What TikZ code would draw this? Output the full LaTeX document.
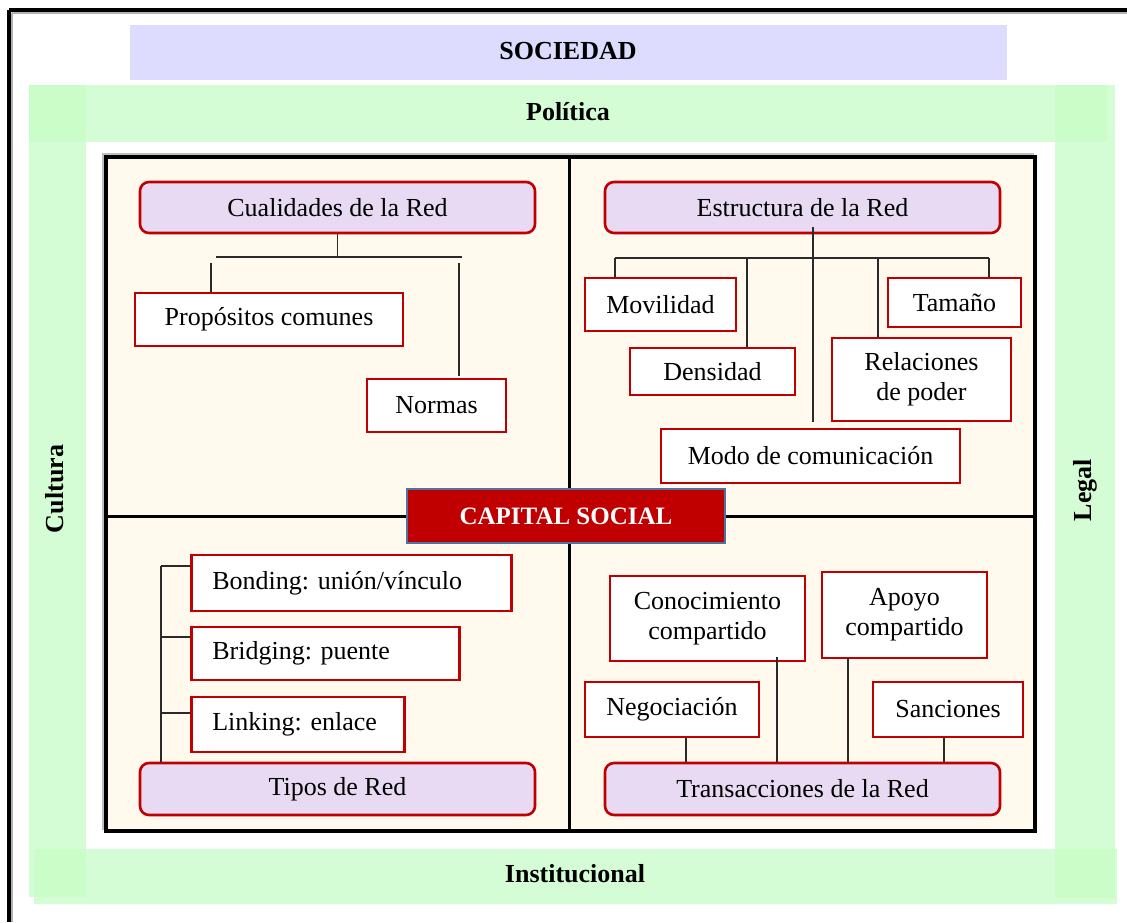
\documentclass[tikz,border=0pt]{standalone}
\usepackage{fontspec}
\setmainfont{Liberation Serif}
\frenchspacing
\definecolor{bandlav}{HTML}{DDDCFE}
\definecolor{bandgreen}{HTML}{D5FDD5}
\definecolor{bandcorner}{HTML}{CBFDC8}
\definecolor{cream}{HTML}{FFF9EE}
\definecolor{boxred}{HTML}{C00000}
\definecolor{boxlilac}{HTML}{E8DAF2}
\definecolor{capborder}{HTML}{4C74A0}
\definecolor{linkgray}{HTML}{2A2A2A}
\begin{document}
\begin{tikzpicture}[x=1pt,y=-1pt,
  bodyfont/.style={font=\fontsize{26}{30}\selectfont},
  bandlabel/.style={font=\fontsize{26}{30}\selectfont\bfseries, inner sep=0pt},
  sizebox/.style 2 args={minimum width=#1pt, minimum height=#2pt},
  whitebox/.style={bodyfont, draw=boxred, line width=2.6pt, fill=white,
    inner sep=0pt, align=center},
  headbox/.style={bodyfont, draw=boxred, line width=2.6pt, fill=boxlilac,
    rounded corners=9pt, inner sep=0pt, align=center},
  leftbox/.style={bodyfont, draw=boxred, line width=2.6pt, fill=white,
    inner ysep=0pt, inner xsep=21pt, anchor=west, align=left},
  link/.style={draw=linkgray, line width=1.3pt},
  gridline/.style={draw=black, line width=3pt},
]
\useasboundingbox (0,0) rectangle (1127,922);

% outer frame (top and left edges)
\draw[gray!60, line width=1.5pt] (12,13) -- (1127,13);
\draw[gray!60, line width=1.5pt] (12,13) -- (12,922);
\draw[black, line width=3.5pt] (9,10) -- (1127,10);
\draw[black, line width=3.5pt] (9,10) -- (9,922);

% society band
\fill[bandlav] (130,25) rectangle (1007,80);
\node[bandlabel] (soc) at (568,51) {SOCIEDAD};

% surrounding context bands
\fill[bandgreen] (29,85) rectangle (1115,142);
\fill[bandgreen] (29,142) rectangle (86,897);
\fill[bandgreen] (1055,142) rectangle (1115,898);
\fill[bandgreen] (34,849) rectangle (1117,904);
\fill[bandcorner] (29,85) rectangle (86,142);
\fill[bandcorner] (1055,85) rectangle (1107,142);
\fill[bandcorner] (34,849) rectangle (86,897);
\fill[bandcorner] (1055,849) rectangle (1115,898);
\node[bandlabel] (pol) at (568,112) {Política};
\node[bandlabel] (inst) at (575,874) {Institucional};
\node[bandlabel, rotate=90] (cult) at (55,489) {Cultura};
\node[bandlabel, rotate=90] (legal) at (1085,490) {Legal};

% central frame with four quadrants
\draw[gray!50, line width=1.5pt] (103,154) rectangle (1033,829);
\draw[black, line width=4pt, fill=cream] (106,157) rectangle (1035,831);
\draw[gridline] (569,157) -- (569,831);
\draw[gridline] (106,516) -- (1035,516);

% quadrant headings
\node[headbox, sizebox={395}{51}] (cual) at (337.5,207.5) {Cualidades de la Red};
\node[headbox, sizebox={395}{51}] (estr) at (802.5,207.5) {Estructura de la Red};
\node[headbox, sizebox={395}{52}] (tipos) at (337.5,789) {Tipos de Red};
\node[headbox, sizebox={395}{52}] (trans) at (802.5,789) {Transacciones de la Red};

% qualities of the network
\node[whitebox, sizebox={268}{53}] (prop) at (269,319.5) {Propósitos comunes};
\node[whitebox, sizebox={139}{53}] (norm) at (436.5,405.5) {Normas};

% structure of the network
\node[whitebox, sizebox={151}{53}] (movi) at (660.5,304.5) {Movilidad};
\node[whitebox, sizebox={165}{47}] (dens) at (712.5,371.5) {Densidad};
\node[whitebox, sizebox={133}{49}] (tama) at (954.5,302.5) {Tamaño};
\node[whitebox, sizebox={179}{83}] (rela) at (921.5,379.5) {Relaciones\\de poder};
\node[whitebox, sizebox={299}{54}] (modo) at (810.5,456) {Modo de comunicación};

% types of network
\node[leftbox, text width=278pt, minimum height=56pt] (bond) at (190,583) {Bonding: unión/vínculo};
\node[leftbox, text width=226pt, minimum height=53pt] (brid) at (190,653.5) {Bridging: puente};
\node[leftbox, text width=171pt, minimum height=55pt] (link) at (190,724.5) {Linking: enlace};

% network transactions
\node[whitebox, sizebox={195}{85}] (cono) at (707.5,618.5) {Conocimiento\\compartido};
\node[whitebox, sizebox={165}{86}] (apoy) at (904.5,615) {Apoyo\\compartido};
\node[whitebox, sizebox={174}{55}] (nego) at (672,709.5) {Negociación};
\node[whitebox, sizebox={150}{55}] (sanc) at (948,709.5) {Sanciones};

% central concept
\node[draw=capborder, line width=2pt, fill=boxred, text=white,
  font=\fontsize{25}{30}\selectfont\bfseries, sizebox={318}{54}, inner sep=0pt]
  (cap) at (566,516) {CAPITAL SOCIAL};

% connectors: qualities
\coordinate (cqL) at (216,257);
\coordinate (cqR) at (462,257);
\coordinate (cqDL) at (211,263);
\coordinate (cqDR) at (459,263);
\draw[link] (cual.south) -- (cual.south |- cqL);
\draw[link] (cqL) -- (cqR);
\draw[link] (cqDL) -- (cqDL |- prop.north);
\draw[link] (cqDR) -- ([yshift=2pt]cqDR |- norm.north);

% connectors: structure
\coordinate (esTop) at (813,227);
\coordinate (esL) at (615,258);
\coordinate (esR) at (989,258);
\coordinate (esDens) at (747,258);
\coordinate (esRela) at (878,258);
\draw[link] (esTop) -- ([yshift=6pt]esTop |- modo.north);
\draw[link] (esL) -- (esR);
\draw[link] (esL) -- (esL |- movi.north);
\draw[link] (esDens) -- (esDens |- dens.north);
\draw[link] (esRela) -- (esRela |- rela.north);
\draw[link] (esR) -- (esR |- tama.north);

% connectors: types
\coordinate (tpTop) at (161,566);
\draw[link] (tpTop) -- (tpTop |- tipos.north);
\draw[link] (tpTop) -- (bond.west |- tpTop);
\draw[link] (tpTop |- 0,637) -- (brid.west |- 0,637);
\draw[link] (tpTop |- 0,713) -- (link.west |- 0,713);

% connectors: transactions
\coordinate (trCono) at (777,657);
\coordinate (trApoy) at (848,658);
\draw[link] (nego.south -| 686,0) -- (trans.north -| 686,0);
\draw[link] (trCono) -- (trCono |- trans.north);
\draw[link] (trApoy) -- (trApoy |- trans.north);
\draw[link] (sanc.south -| 944,0) -- (trans.north -| 944,0);
\end{tikzpicture}
\end{document}
